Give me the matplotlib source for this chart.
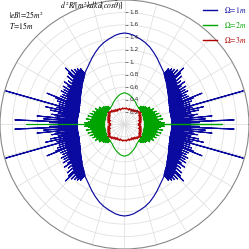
import numpy as np
import matplotlib
matplotlib.use("Agg")
import matplotlib.pyplot as plt
from matplotlib.lines import Line2D

plt.rcParams["mathtext.fontset"] = "stix"

# ---- data (upper-right quadrant, degrees; the other quadrants are mirror images)
# Omega = 1m : needle-like spikes near the horizontal, smooth oval near the vertical
blue_spike_theta = [0.5, 1.5, 2.4, 3.3, 4.0, 4.8, 5.6, 6.5, 7.3, 8.0, 8.8, 9.6, 10.4, 11.0,
                    11.8, 12.7, 13.5, 14.3, 15.0, 15.8, 16.6, 17.5, 18.4, 19.3, 20.2, 21.1,
                    22.0, 23.0, 24.0, 25.0, 26.0, 27.0, 28.0, 29.0, 30.0, 31.0, 32.0, 33.0,
                    34.2, 35.4, 36.6, 37.8, 39.0, 40.2, 41.4, 42.6, 43.7, 44.8, 45.8, 46.8,
                    47.8, 48.8, 49.8, 50.8, 51.8]
blue_spike_tip = [1.05, 1.20, 1.76, 0.92, 1.30, 1.02, 1.41, 0.95, 1.12, 1.18, 0.98, 1.08, 0.95,
                  1.21, 1.00, 1.30, 0.96, 1.12, 1.00, 1.98, 0.96, 1.10, 0.98, 1.14, 1.00, 1.18,
                  1.34, 0.99, 1.12, 1.00, 1.10, 1.02, 1.15, 1.02, 1.12, 1.04, 1.16, 1.04, 1.10,
                  1.18, 1.05, 1.14, 1.07, 1.20, 1.09, 1.22, 1.31, 1.12, 1.22, 1.13, 1.19, 1.14,
                  1.17, 1.13, 1.14]
blue_spike_base = [0.76, 0.76, 0.76, 0.76, 0.76, 0.76, 0.76, 0.76, 0.76, 0.76, 0.76, 0.76, 0.76,
                   0.76, 0.76, 0.76, 0.76, 0.76, 0.76, 0.76, 0.76, 0.77, 0.77, 0.77, 0.77, 0.78,
                   0.78, 0.78, 0.79, 0.79, 0.80, 0.80, 0.81, 0.81, 0.82, 0.83, 0.84, 0.84, 0.85,
                   0.86, 0.87, 0.88, 0.89, 0.90, 0.91, 0.93, 0.94, 0.95, 0.96, 0.97, 0.98, 0.99,
                   1.01, 1.02, 1.03]
blue_smooth_theta = [53, 56, 60, 64, 68, 72, 76, 80, 84, 87, 90]
blue_smooth_r = [1.05, 1.08, 1.13, 1.19, 1.25, 1.31, 1.36, 1.40, 1.44, 1.46, 1.47]

# Omega = 2m
green_spike_theta = [0.0, 1.2, 2.4, 3.6, 4.8, 6.0, 7.2, 8.4, 9.6, 10.8, 12.0, 13.2, 14.4, 15.6,
                     16.8, 18.0, 19.2, 20.4, 21.6, 22.8, 24.0, 25.5, 27.0, 28.5, 30.0, 31.5,
                     33.0, 34.5, 36.0, 37.5, 39.0, 40.5, 42.0, 43.5, 45.0, 46.5, 48.0]
green_spike_tip = [1.57, 0.52, 0.64, 0.48, 0.58, 0.46, 0.55, 0.62, 0.47, 0.53, 0.45, 0.60, 0.48,
                   0.52, 0.44, 0.58, 0.47, 0.51, 0.45, 0.55, 0.46, 0.50, 0.44, 0.53, 0.45, 0.48,
                   0.43, 0.49, 0.42, 0.45, 0.41, 0.44, 0.40, 0.42, 0.39, 0.40, 0.38]
green_spike_base = [0.33, 0.32, 0.33, 0.32, 0.33, 0.33, 0.32, 0.33, 0.33, 0.32, 0.33, 0.33,
                    0.32, 0.33, 0.33, 0.33, 0.32, 0.33, 0.33, 0.33, 0.33, 0.33, 0.33, 0.34,
                    0.33, 0.34, 0.34, 0.34, 0.34, 0.34, 0.34, 0.34, 0.35, 0.35, 0.35, 0.35, 0.35]
green_smooth_theta = [50, 54, 58, 62, 66, 70, 74, 78, 82, 86, 90]
green_smooth_r = [0.35, 0.36, 0.37, 0.39, 0.41, 0.43, 0.45, 0.47, 0.49, 0.50, 0.51]

# Omega = 3m
red_theta = [0, 3, 6, 9, 12, 15, 18, 21, 24, 27, 30, 33, 36, 39, 42, 45, 48, 51, 54, 57, 60,
             63, 66, 69, 72, 75, 78, 81, 84, 87, 90]
red_r = [0.25, 0.22, 0.27, 0.24, 0.28, 0.23, 0.29, 0.25, 0.30, 0.26, 0.31, 0.27, 0.33, 0.29,
         0.32, 0.28, 0.31, 0.26, 0.29, 0.25, 0.28, 0.24, 0.27, 0.25, 0.27, 0.24, 0.26, 0.25,
         0.27, 0.25, 0.26]

r_ticks = [0.2, 0.4, 0.6, 0.8, 1.0, 1.2, 1.4, 1.6, 1.8]
r_tick_labels = ["0.2", "0.4", "0.6", "0.8", "1.", "1.2", "1.4", "1.6", "1.8"]

series = ["$\\Omega\\!=\\!1m$", "$\\Omega\\!=\\!2m$", "$\\Omega\\!=\\!3m$"]
colors = ["#0a0aa0", "#00a400", "#b00000"]


def quadrant(spike_theta, spike_tip, spike_base, smooth_theta, smooth_r):
    th, rr = [], []
    for t, tip, base in zip(spike_theta, spike_tip, spike_base):
        th += [t, t, t]
        rr += [base, tip, base]
    return th + list(smooth_theta), rr + list(smooth_r)


def full_loop(th, r):
    th = np.asarray(th, float)
    r = np.asarray(r, float)
    t = np.concatenate([th, 180 - th[::-1], 180 + th, 360 - th[::-1]])
    rr = np.concatenate([r, r[::-1], r, r[::-1]])
    return np.deg2rad(t), rr


fig = plt.figure(figsize=(2.49, 2.49), dpi=100)
ax = fig.add_axes([0, 0, 1, 1], projection="polar")

b_t, b_r = full_loop(*quadrant(blue_spike_theta, blue_spike_tip, blue_spike_base,
                               blue_smooth_theta, blue_smooth_r))
g_t, g_r = full_loop(*quadrant(green_spike_theta, green_spike_tip, green_spike_base,
                               green_smooth_theta, green_smooth_r))
r_t, r_r = full_loop(red_theta, red_r)

ax.plot(b_t, b_r, color=colors[0], lw=0.85, zorder=3)
ax.plot(g_t, g_r, color=colors[1], lw=0.8, zorder=4)
ax.plot(r_t, r_r, color=colors[2], lw=0.85, zorder=5)

ax.set_ylim(0, 2)
ax.set_rgrids(r_ticks, labels=[""] * len(r_ticks))
ax.set_thetagrids(np.arange(0, 360, 15), labels=[""] * 24)
ax.grid(color="#dcdcdc", lw=0.5)
ax.spines["polar"].set_color("#888888")
ax.spines["polar"].set_linewidth(0.8)

# radial tick marks and labels along the vertical axis
ax.plot([np.pi / 2] * len(r_ticks), r_ticks, ls="none", marker=1, ms=2.5,
        mew=0.5, color="#777777", zorder=2)
for rv, lab in zip(r_ticks, r_tick_labels):
    ax.annotate(lab, (np.pi / 2, rv), xytext=(3.5, 0), textcoords="offset points",
                ha="left", va="center", fontsize=4.2, color="#333333", zorder=6)

# annotations
fig.text(0.035, 0.94, "$|eB|\\!=\\!25m^2$", fontsize=5.5, ha="left", va="center")
fig.text(0.035, 0.898, "$T\\!=\\!15m$", fontsize=5.5, ha="left", va="center")
fig.text(0.37, 0.975, "$d^2R/[m^2kdkd(cos\\bar{\\theta})]$", fontsize=5.5,
         ha="center", va="center")

# legend
for i, (lab, c) in enumerate(zip(series, colors)):
    y = 0.96 - i * 0.061
    fig.add_artist(Line2D([0.815, 0.872], [y, y], color=c, lw=1.0,
                          transform=fig.transFigure))
    fig.text(0.9, y, lab, color=c, fontsize=5.5, ha="left", va="center")

fig.savefig("out.png", dpi=100)
